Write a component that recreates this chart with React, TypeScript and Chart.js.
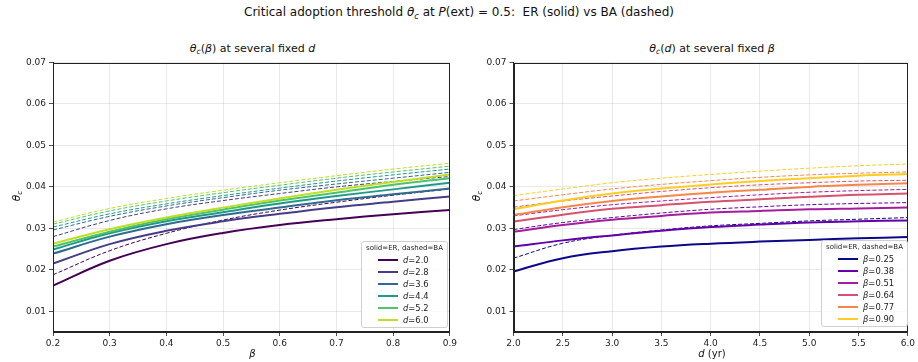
import React, { useEffect, useRef } from "react";
import { Chart, registerables } from "chart.js";

Chart.register(...registerables);

// ---------- data ----------
const BETA = [0.2, 0.3, 0.4, 0.5, 0.6, 0.7, 0.8, 0.9];
const D_YR = [2.0, 2.5, 3.0, 3.5, 4.0, 4.5, 5.0, 5.5, 6.0];

const D_LABELS = ["2.0", "2.8", "3.6", "4.4", "5.2", "6.0"];
const B_LABELS = ["0.25", "0.38", "0.51", "0.64", "0.77", "0.90"];

const X_TICKS_LEFT = [0.2, 0.3, 0.4, 0.5, 0.6, 0.7, 0.8, 0.9];
const X_TICKS_RIGHT = [2.0, 2.5, 3.0, 3.5, 4.0, 4.5, 5.0, 5.5, 6.0];
const Y_TICKS = [0.01, 0.02, 0.03, 0.04, 0.05, 0.06, 0.07];

// left: theta_c vs beta at fixed d (ER solid)
const ER_D20 = [0.0162, 0.0222, 0.0262, 0.0289, 0.0308, 0.0322, 0.0334, 0.0344];
const ER_D28 = [0.0215, 0.0262, 0.0294, 0.0317, 0.0335, 0.0351, 0.0364, 0.0377];
const ER_D36 = [0.0239, 0.0280, 0.0310, 0.0332, 0.0350, 0.0368, 0.0382, 0.0396];
const ER_D44 = [0.0249, 0.0288, 0.0317, 0.0339, 0.0360, 0.0378, 0.0394, 0.0410];
const ER_D52 = [0.0256, 0.0292, 0.0322, 0.0345, 0.0367, 0.0386, 0.0405, 0.0421];
const ER_D60 = [0.0263, 0.0298, 0.0326, 0.0350, 0.0372, 0.0393, 0.0412, 0.0430];
// left: BA dashed
const BA_D20 = [0.0188, 0.0246, 0.0288, 0.0320, 0.0344, 0.0363, 0.0380, 0.0395];
const BA_D28 = [0.0280, 0.0319, 0.0347, 0.0367, 0.0384, 0.0400, 0.0413, 0.0425];
const BA_D36 = [0.0296, 0.0329, 0.0354, 0.0374, 0.0392, 0.0407, 0.0421, 0.0435];
const BA_D44 = [0.0303, 0.0335, 0.0359, 0.0379, 0.0397, 0.0414, 0.0429, 0.0443];
const BA_D52 = [0.0310, 0.0342, 0.0366, 0.0386, 0.0404, 0.0421, 0.0436, 0.0450];
const BA_D60 = [0.0315, 0.0348, 0.0372, 0.0392, 0.0410, 0.0427, 0.0443, 0.0457];

// right: theta_c vs d at fixed beta (ER solid)
const ER_B25 = [0.0196, 0.0228, 0.0245, 0.0256, 0.0263, 0.0268, 0.0272, 0.0276, 0.0279];
const ER_B38 = [0.0256, 0.0271, 0.0283, 0.0294, 0.0303, 0.0309, 0.0314, 0.0317, 0.0319];
const ER_B51 = [0.0292, 0.0308, 0.0321, 0.0330, 0.0338, 0.0342, 0.0346, 0.0348, 0.0350];
const ER_B64 = [0.0316, 0.0333, 0.0347, 0.0356, 0.0364, 0.0370, 0.0376, 0.0381, 0.0384];
const ER_B77 = [0.0332, 0.0351, 0.0366, 0.0377, 0.0386, 0.0393, 0.0400, 0.0405, 0.0409];
const ER_B90 = [0.0346, 0.0367, 0.0384, 0.0396, 0.0406, 0.0414, 0.0421, 0.0427, 0.0431];
// right: BA dashed
const BA_B25 = [0.0228, 0.0264, 0.0283, 0.0296, 0.0306, 0.0312, 0.0318, 0.0322, 0.0326];
const BA_B38 = [0.0297, 0.0314, 0.0326, 0.0337, 0.0346, 0.0352, 0.0357, 0.0360, 0.0362];
const BA_B51 = [0.0330, 0.0345, 0.0357, 0.0366, 0.0374, 0.0381, 0.0387, 0.0391, 0.0394];
const BA_B64 = [0.0351, 0.0366, 0.0378, 0.0389, 0.0398, 0.0405, 0.0410, 0.0414, 0.0416];
const BA_B77 = [0.0366, 0.0381, 0.0395, 0.0406, 0.0415, 0.0423, 0.0429, 0.0433, 0.0436];
const BA_B90 = [0.0379, 0.0395, 0.0410, 0.0421, 0.0430, 0.0438, 0.0445, 0.0451, 0.0455];

const VIRIDIS = ["#440154", "#433e85", "#306a8e", "#1f9a8a", "#4ec36b", "#bddf26"];
const PLASMA = ["#0d0887", "#6300a7", "#a31e9a", "#d5536f", "#f48849", "#fcce25"];

const FONT = "'DejaVu Sans', sans-serif";

const framePlugin = {
  id: "frame",
  afterDraw(chart: any) {
    const { ctx, chartArea } = chart;
    const l = Math.round(chartArea.left) + 0.5;
    const t = Math.round(chartArea.top) + 0.5;
    const r = Math.round(chartArea.right) - 0.5;
    const b = Math.round(chartArea.bottom) - 0.5;
    ctx.save();
    ctx.strokeStyle = "#222";
    ctx.lineWidth = 1;
    ctx.strokeRect(l, t, r - l, b - t);
    ctx.restore();
  },
};

type PanelProps = {
  xs: number[];
  er: number[][];
  ba: number[][];
  colors: string[];
  xmin: number;
  xmax: number;
  xticks: number[];
  left: number;
  width: number;
  yAxisWidth: number;
};

function Panel(p: PanelProps) {
  const ref = useRef<HTMLCanvasElement | null>(null);
  useEffect(() => {
    if (!ref.current) return;
    const ds: any[] = [];
    for (let k = 0; k < p.er.length; k++) {
      ds.push({
        data: p.xs.map((x, i) => ({ x, y: p.er[k][i] })),
        borderColor: p.colors[k],
        borderWidth: 2,
        pointRadius: 0,
        fill: false,
        tension: 0.4,
      });
      ds.push({
        data: p.xs.map((x, i) => ({ x, y: p.ba[k][i] })),
        borderColor: p.colors[k],
        borderWidth: 1,
        borderDash: [4, 2],
        pointRadius: 0,
        fill: false,
        tension: 0.4,
      });
    }
    ds.reverse();
    const tickFont = { family: FONT, size: 9, lineHeight: 1 };
    const chart = new Chart(ref.current, {
      type: "line",
      data: { datasets: ds },
      plugins: [framePlugin],
      options: {
        animation: false,
        responsive: false,
        maintainAspectRatio: false,
        devicePixelRatio: 1,
        layout: { padding: { top: 5, right: 8, left: 0, bottom: 0 } },
        plugins: {
          legend: { display: false },
          tooltip: { enabled: false },
          title: { display: false },
        },
        scales: {
          x: {
            type: "linear",
            min: p.xmin,
            max: p.xmax,
            afterBuildTicks: (s: any) => {
              s.ticks = p.xticks.map((v) => ({ value: v }));
            },
            afterFit: (s: any) => {
              s.height = 30;
            },
            ticks: {
              callback: (v: any) => Number(v).toFixed(1),
              font: tickFont,
              color: "#222",
              maxRotation: 0,
              autoSkip: false,
              padding: 3,
            },
            grid: {
              color: "rgba(176,176,176,0.35)",
              lineWidth: 0.8,
              tickColor: "#222",
              tickLength: 4,
            },
            border: { color: "#222", width: 1 },
          },
          y: {
            type: "linear",
            min: 0.005,
            max: 0.07,
            afterBuildTicks: (s: any) => {
              s.ticks = Y_TICKS.map((v) => ({ value: v }));
            },
            afterFit: (s: any) => {
              s.width = p.yAxisWidth;
            },
            ticks: {
              callback: (v: any) => Number(v).toFixed(2),
              font: tickFont,
              color: "#222",
              padding: 3,
            },
            grid: {
              color: "rgba(176,176,176,0.35)",
              lineWidth: 0.8,
              tickColor: "#222",
              tickLength: 4,
            },
            border: { color: "#222", width: 1 },
          },
        },
      } as any,
    });
    return () => chart.destroy();
  }, []);
  return (
    <canvas
      ref={ref}
      width={p.width}
      height={307}
      style={{ position: "absolute", left: p.left, top: 55, width: p.width, height: 307 }}
    />
  );
}

const Sub = ({ children }: { children: any }) => (
  <sub style={{ fontSize: "70%", verticalAlign: "-0.3em", lineHeight: 0 }}>{children}</sub>
);

function Legend(props: { left: number; top: number; colors: string[]; sym: string; labels: string[] }) {
  return (
    <div
      style={{
        position: "absolute",
        left: props.left,
        top: props.top,
        width: 85,
        height: 85,
        border: "1px solid #cfcfcf",
        borderRadius: 3,
        background: "rgba(255,255,255,0.85)",
        fontFamily: FONT,
        color: "#222",
      }}
    >
      <div style={{ position: "absolute", left: 0, width: 85, top: 1, textAlign: "center", fontSize: 7, lineHeight: "10px", whiteSpace: "nowrap" }}>
        solid=ER, dashed=BA
      </div>
      {props.labels.map((lab, i) => (
        <div key={i} style={{ position: "absolute", left: 0, top: 12 + i * 11.9, height: 12, width: 85 }}>
          <div style={{ position: "absolute", left: 16, top: 5, width: 20, height: 2, background: props.colors[i] }} />
          <div style={{ position: "absolute", left: 41, top: 0, fontSize: 8.4, lineHeight: "12px", whiteSpace: "nowrap" }}>
            <i>{props.sym}</i>={lab}
          </div>
        </div>
      ))}
    </div>
  );
}

export default function App() {
  return (
    <div
      style={{
        position: "absolute",
        left: 0,
        top: 0,
        width: 918,
        height: 362,
        background: "#fff",
        fontFamily: FONT,
        color: "#111",
        overflow: "hidden",
      }}
    >
      <div style={{ position: "absolute", left: 0, top: 3, width: 918, textAlign: "center", fontSize: 12, lineHeight: "18px", whiteSpace: "pre" }}>
        {"Critical adoption threshold "}
        <i>θ</i>
        <Sub><i>c</i></Sub>
        {" at "}
        <i>P</i>
        {"(ext) = 0.5:  ER (solid) vs BA (dashed)"}
      </div>
      <div style={{ position: "absolute", left: 53, width: 399, top: 41, textAlign: "center", fontSize: 11, lineHeight: "16px", whiteSpace: "pre" }}>
        <i>θ</i>
        <Sub><i>c</i></Sub>
        (<i>β</i>) at several fixed <i>d</i>
      </div>
      <div style={{ position: "absolute", left: 513, width: 398, top: 41, textAlign: "center", fontSize: 11, lineHeight: "16px", whiteSpace: "pre" }}>
        <i>θ</i>
        <Sub><i>c</i></Sub>
        (<i>d</i>) at several fixed <i>β</i>
      </div>

      <Panel
        xs={BETA}
        er={[ER_D20, ER_D28, ER_D36, ER_D44, ER_D52, ER_D60]}
        ba={[BA_D20, BA_D28, BA_D36, BA_D44, BA_D52, BA_D60]}
        colors={VIRIDIS}
        xmin={0.2}
        xmax={0.9}
        xticks={X_TICKS_LEFT}
        left={0}
        width={460}
        yAxisWidth={53}
      />
      <Panel
        xs={D_YR}
        er={[ER_B25, ER_B38, ER_B51, ER_B64, ER_B77, ER_B90]}
        ba={[BA_B25, BA_B38, BA_B51, BA_B64, BA_B77, BA_B90]}
        colors={PLASMA}
        xmin={2.0}
        xmax={6.0}
        xticks={X_TICKS_RIGHT}
        left={459}
        width={459}
        yAxisWidth={54.5}
      />

      <div style={{ position: "absolute", left: 53, width: 399, top: 346, textAlign: "center", fontSize: 10, lineHeight: "16px" }}>
        <i>β</i>
      </div>
      <div style={{ position: "absolute", left: 513, width: 398, top: 346, textAlign: "center", fontSize: 10, lineHeight: "16px", whiteSpace: "pre" }}>
        <i>d</i> (yr)
      </div>
      <div style={{ position: "absolute", left: 16, top: 196, width: 0, height: 0 }}>
        <div style={{ position: "absolute", left: -20, top: -8, width: 40, textAlign: "center", fontSize: 10.5, lineHeight: "16px", transform: "rotate(-90deg)" }}>
          <i>θ</i>
          <Sub><i>c</i></Sub>
        </div>
      </div>
      <div style={{ position: "absolute", left: 476, top: 196, width: 0, height: 0 }}>
        <div style={{ position: "absolute", left: -20, top: -8, width: 40, textAlign: "center", fontSize: 10.5, lineHeight: "16px", transform: "rotate(-90deg)" }}>
          <i>θ</i>
          <Sub><i>c</i></Sub>
        </div>
      </div>

      <Legend left={361} top={241} colors={VIRIDIS} sym="d" labels={D_LABELS} />
      <Legend left={821} top={240} colors={PLASMA} sym="β" labels={B_LABELS} />
    </div>
  );
}
